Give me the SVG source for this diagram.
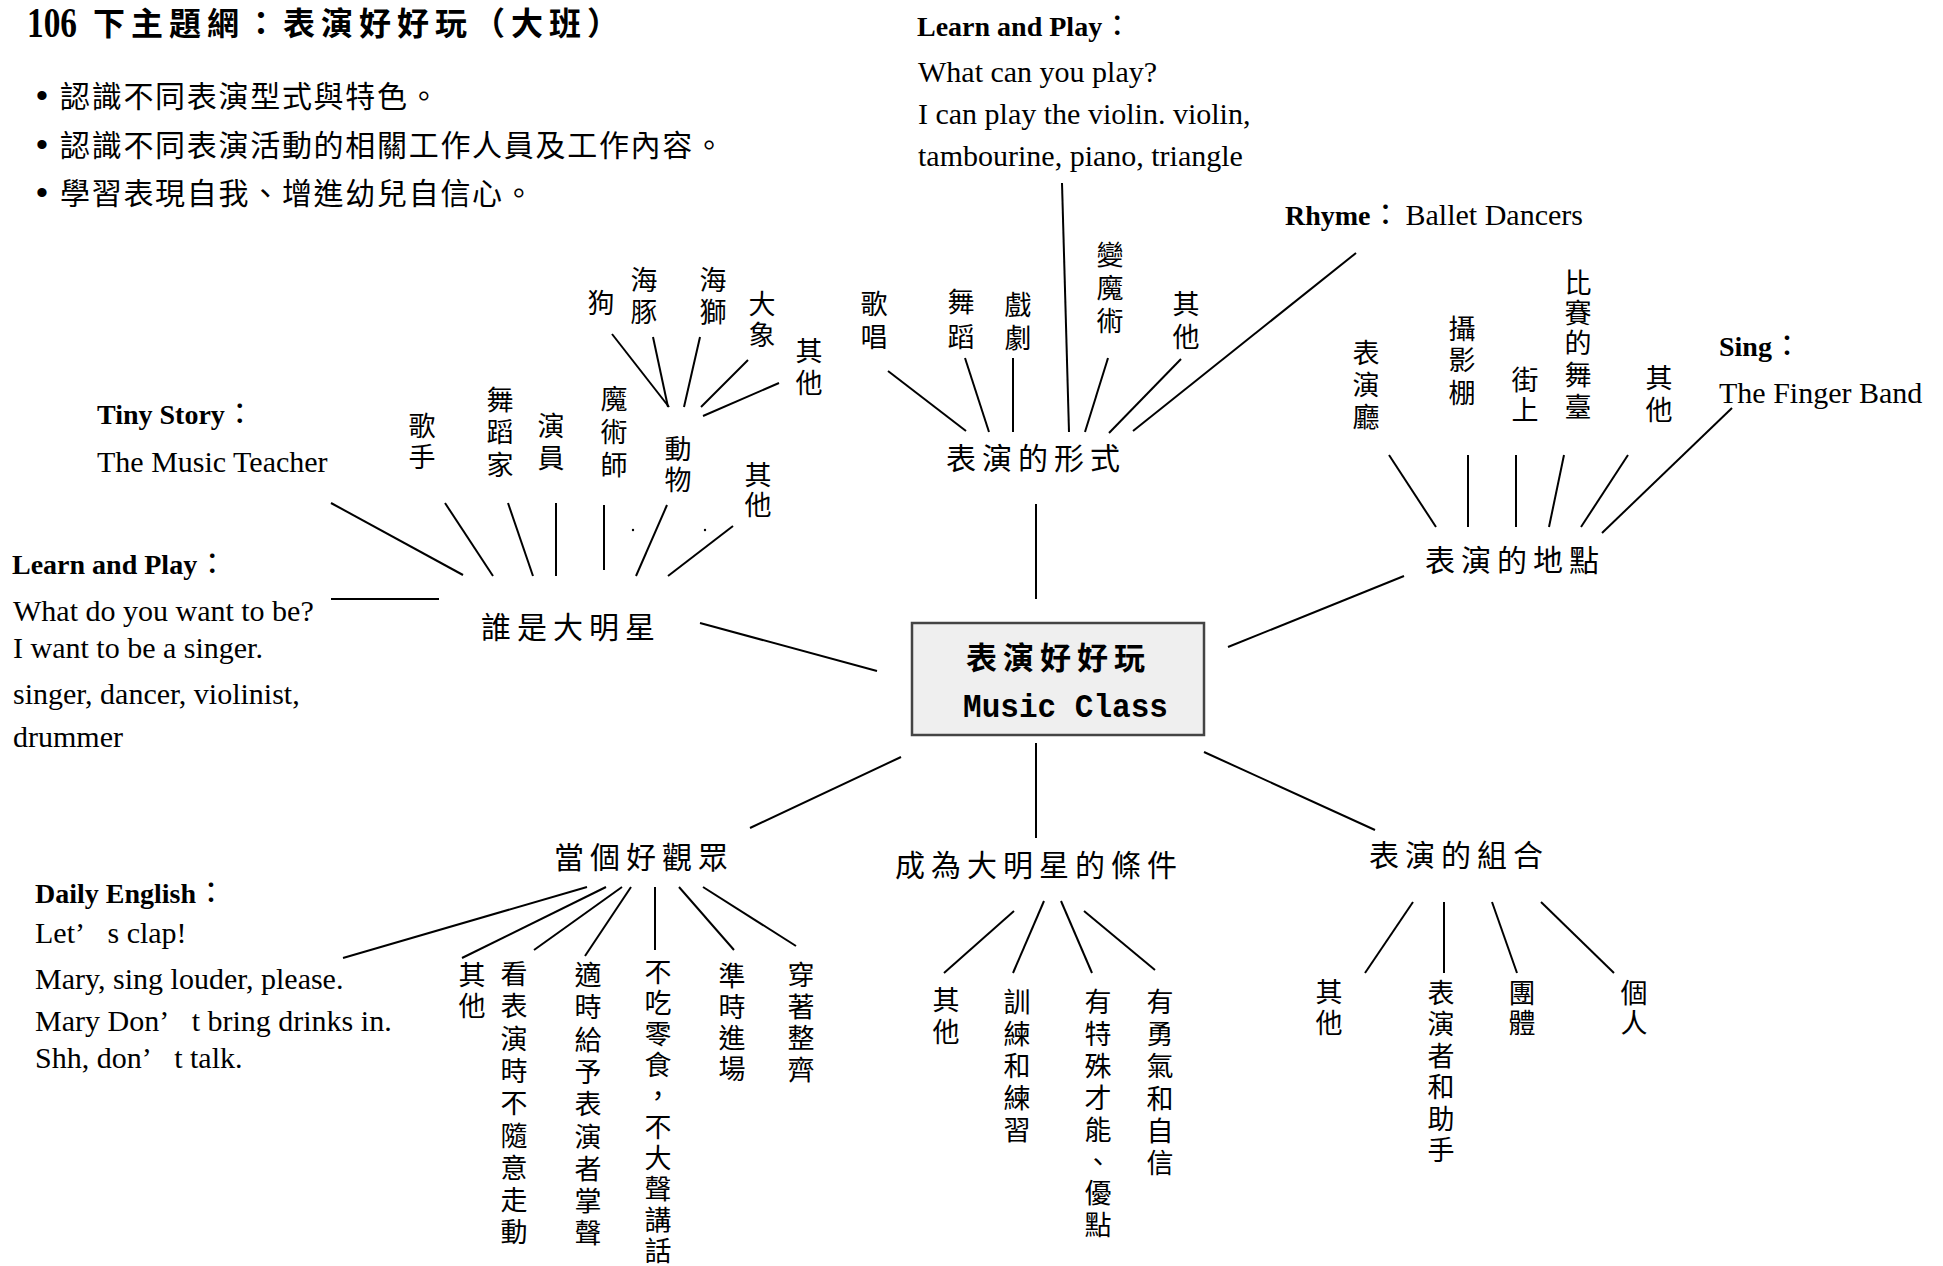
<svg xmlns="http://www.w3.org/2000/svg" width="1943" height="1266" viewBox="0 0 1943 1266">
<style>
.cj{font-family:"Noto Sans CJK TC","Noto Sans CJK SC",sans-serif;fill:#000}
.ttl{font-size:32px;font-weight:bold;letter-spacing:6px}
.bul{font-size:30px;letter-spacing:1.7px}
.nd{font-size:30px;letter-spacing:6px}
.v{font-size:27px;text-anchor:middle}
.en{font-family:"Liberation Serif","Times New Roman",serif;font-size:30px;font-weight:normal;fill:#000}
.hd{font-family:"Liberation Serif","Times New Roman",serif;font-size:28px;font-weight:bold;fill:#000}
.col{font-family:"Noto Sans CJK TC","Noto Sans CJK SC",sans-serif;font-size:30px;font-weight:normal}
.dot{font-family:"Liberation Sans",Arial,sans-serif;font-size:34px;letter-spacing:0}
#connectors line{stroke:#000;stroke-width:2}
</style>
<rect width="1943" height="1266" fill="#fff"/>

<g id="header">
<text x="27" y="37" font-family="Liberation Serif,Times New Roman,serif" font-size="42" font-weight="bold" textLength="50" lengthAdjust="spacingAndGlyphs">106</text>
<text class="cj ttl" x="93" y="35">下主題網：表演好好玩（大班）</text>
<text class="cj bul" x="36" y="107"><tspan class="dot">•</tspan><tspan x="60">認識不同表演型式與特色。</tspan></text>
<text class="cj bul" x="36" y="156"><tspan class="dot">•</tspan><tspan x="60">認識不同表演活動的相關工作人員及工作內容。</tspan></text>
<text class="cj bul" x="36" y="204"><tspan class="dot">•</tspan><tspan x="60">學習表現自我、增進幼兒自信心。</tspan></text>
</g>

<g id="connectors">
<line x1="700" y1="623" x2="877" y2="671"/>
<line x1="901" y1="757" x2="750" y2="828"/>
<line x1="1036" y1="743" x2="1036" y2="838"/>
<line x1="1204" y1="752" x2="1375" y2="830"/>
<line x1="1228" y1="647" x2="1404" y2="576"/>
<line x1="1036" y1="504" x2="1036" y2="599"/>
<line x1="331" y1="503" x2="463" y2="575"/>
<line x1="445" y1="503" x2="493" y2="576"/>
<line x1="508" y1="503" x2="533" y2="576"/>
<line x1="556" y1="503" x2="556" y2="576"/>
<line x1="604" y1="505" x2="604" y2="570"/>
<line x1="667" y1="505" x2="636" y2="576"/>
<line x1="733" y1="526" x2="668" y2="576"/>
<line x1="331" y1="599" x2="439" y2="599"/>
<line x1="612" y1="334" x2="669" y2="407"/>
<line x1="653" y1="337" x2="668" y2="407"/>
<line x1="700" y1="337" x2="684" y2="407"/>
<line x1="748" y1="360" x2="701" y2="407"/>
<line x1="779" y1="383" x2="703" y2="416"/>
<line x1="888" y1="371" x2="966" y2="431"/>
<line x1="965" y1="358" x2="989" y2="432"/>
<line x1="1013" y1="358" x2="1013" y2="432"/>
<line x1="1062" y1="183" x2="1069" y2="432"/>
<line x1="1108" y1="358" x2="1085" y2="432"/>
<line x1="1181" y1="359" x2="1109" y2="433"/>
<line x1="1356" y1="253" x2="1133" y2="431"/>
<line x1="1389" y1="455" x2="1436" y2="527"/>
<line x1="1468" y1="455" x2="1468" y2="527"/>
<line x1="1516" y1="455" x2="1516" y2="527"/>
<line x1="1564" y1="455" x2="1549" y2="527"/>
<line x1="1628" y1="455" x2="1581" y2="527"/>
<line x1="1732" y1="408" x2="1602" y2="533"/>
<line x1="587" y1="887" x2="343" y2="958"/>
<line x1="606" y1="887" x2="462" y2="958"/>
<line x1="622" y1="887" x2="534" y2="950"/>
<line x1="631" y1="887" x2="585" y2="956"/>
<line x1="655" y1="887" x2="655" y2="950"/>
<line x1="679" y1="887" x2="734" y2="950"/>
<line x1="703" y1="887" x2="796" y2="946"/>
<line x1="1014" y1="911" x2="944" y2="973"/>
<line x1="1044" y1="901" x2="1013" y2="973"/>
<line x1="1061" y1="901" x2="1092" y2="973"/>
<line x1="1084" y1="911" x2="1155" y2="970"/>
<line x1="1413" y1="902" x2="1365" y2="973"/>
<line x1="1444" y1="902" x2="1444" y2="973"/>
<line x1="1492" y1="902" x2="1517" y2="973"/>
<line x1="1541" y1="902" x2="1614" y2="973"/>
<circle cx="633" cy="530" r="1.2" fill="#000"/>
<circle cx="705" cy="530" r="1.2" fill="#000"/>
</g>

<g id="center">
<rect x="912" y="623" width="292" height="112" fill="#efefef" stroke="#444" stroke-width="2.5"/>
<text class="cj" x="966" y="669" font-size="31" font-weight="bold" letter-spacing="6">表演好好玩</text>
<text x="963" y="717" font-family="Liberation Mono,Courier New,monospace" font-size="34" font-weight="bold" textLength="205" lengthAdjust="spacingAndGlyphs">Music Class</text>
</g>

<g id="n-who">
<text class="cj nd" x="481" y="638">誰是大明星</text>
<text class="cj v" x="422" y="436">歌<tspan x="422" dy="31">手</tspan></text>
<text class="cj v" x="500" y="410">舞<tspan x="500" dy="32">蹈</tspan><tspan x="500" dy="33">家</tspan></text>
<text class="cj v" x="551" y="436">演<tspan x="551" dy="32">員</tspan></text>
<text class="cj v" x="614" y="409">魔<tspan x="614" dy="33">術</tspan><tspan x="614" dy="33">師</tspan></text>
<text class="cj v" x="678" y="459">動<tspan x="678" dy="31">物</tspan></text>
<text class="cj v" x="758" y="485">其<tspan x="758" dy="30">他</tspan></text>
</g>

<g id="n-animals">
<text class="cj v" x="601" y="313">狗</text>
<text class="cj v" x="644" y="290">海<tspan x="644" dy="32">豚</tspan></text>
<text class="cj v" x="713" y="290">海<tspan x="713" dy="32">獅</tspan></text>
<text class="cj v" x="762" y="314">大<tspan x="762" dy="31">象</tspan></text>
<text class="cj v" x="809" y="361">其<tspan x="809" dy="32">他</tspan></text>
</g>

<g id="n-form">
<text class="cj nd" x="946" y="469">表演的形式</text>
<text class="cj v" x="874" y="314">歌<tspan x="874" dy="33">唱</tspan></text>
<text class="cj v" x="961" y="312">舞<tspan x="961" dy="35">蹈</tspan></text>
<text class="cj v" x="1018" y="315">戲<tspan x="1018" dy="33">劇</tspan></text>
<text class="cj v" x="1110" y="265">變<tspan x="1110" dy="33">魔</tspan><tspan x="1110" dy="33">術</tspan></text>
<text class="cj v" x="1186" y="314">其<tspan x="1186" dy="33">他</tspan></text>
</g>

<g id="n-place">
<text class="cj nd" x="1425" y="571">表演的地點</text>
<text class="cj v" x="1366" y="363">表<tspan x="1366" dy="32">演</tspan><tspan x="1366" dy="32">廳</tspan></text>
<text class="cj v" x="1462" y="339">攝<tspan x="1462" dy="31">影</tspan><tspan x="1462" dy="33">棚</tspan></text>
<text class="cj v" x="1525" y="390">街<tspan x="1525" dy="30">上</tspan></text>
<text class="cj v" x="1578" y="293">比<tspan x="1578" dy="30">賽</tspan><tspan x="1578" dy="30">的</tspan><tspan x="1578" dy="32">舞</tspan><tspan x="1578" dy="32">臺</tspan></text>
<text class="cj v" x="1659" y="388">其<tspan x="1659" dy="32">他</tspan></text>
</g>

<g id="n-audience">
<text class="cj nd" x="554" y="868">當個好觀眾</text>
<text class="cj v" x="472" y="985">其<tspan x="472" dy="31">他</tspan></text>
<text class="cj v" x="514" y="984">看<tspan x="514" dy="32.3">表</tspan><tspan x="514" dy="32.3">演</tspan><tspan x="514" dy="32.3">時</tspan><tspan x="514" dy="32.3">不</tspan><tspan x="514" dy="32.3">隨</tspan><tspan x="514" dy="32.3">意</tspan><tspan x="514" dy="32.3">走</tspan><tspan x="514" dy="32.3">動</tspan></text>
<text class="cj v" x="588" y="985">適<tspan x="588" dy="32.3">時</tspan><tspan x="588" dy="32.3">給</tspan><tspan x="588" dy="32.3">予</tspan><tspan x="588" dy="32.3">表</tspan><tspan x="588" dy="32.3">演</tspan><tspan x="588" dy="32.3">者</tspan><tspan x="588" dy="32.3">掌</tspan><tspan x="588" dy="32.3">聲</tspan></text>
<text class="cj v" x="658" y="982">不<tspan x="658" dy="31">吃</tspan><tspan x="658" dy="31">零</tspan><tspan x="658" dy="31">食</tspan><tspan x="658" dy="31">，</tspan><tspan x="658" dy="31">不</tspan><tspan x="658" dy="31">大</tspan><tspan x="658" dy="31">聲</tspan><tspan x="658" dy="31">講</tspan><tspan x="658" dy="31">話</tspan></text>
<text class="cj v" x="732" y="986">準<tspan x="732" dy="31">時</tspan><tspan x="732" dy="31">進</tspan><tspan x="732" dy="31">場</tspan></text>
<text class="cj v" x="801" y="985">穿<tspan x="801" dy="31.7">著</tspan><tspan x="801" dy="31.7">整</tspan><tspan x="801" dy="31.7">齊</tspan></text>
</g>

<g id="n-conditions">
<text class="cj nd" x="895" y="876" letter-spacing="6.7">成為大明星的條件</text>
<text class="cj v" x="946" y="1010">其<tspan x="946" dy="32">他</tspan></text>
<text class="cj v" x="1017" y="1012">訓<tspan x="1017" dy="32">練</tspan><tspan x="1017" dy="32">和</tspan><tspan x="1017" dy="32">練</tspan><tspan x="1017" dy="32">習</tspan></text>
<text class="cj v" x="1098" y="1012">有<tspan x="1098" dy="31.9">特</tspan><tspan x="1098" dy="31.9">殊</tspan><tspan x="1098" dy="31.9">才</tspan><tspan x="1098" dy="31.9">能</tspan><tspan x="1098" dy="31.9">、</tspan><tspan x="1098" dy="31.9">優</tspan><tspan x="1098" dy="31.9">點</tspan></text>
<text class="cj v" x="1160" y="1012">有<tspan x="1160" dy="32.2">勇</tspan><tspan x="1160" dy="32.2">氣</tspan><tspan x="1160" dy="32.2">和</tspan><tspan x="1160" dy="32.2">自</tspan><tspan x="1160" dy="32.2">信</tspan></text>
</g>

<g id="n-combination">
<text class="cj nd" x="1369" y="866">表演的組合</text>
<text class="cj v" x="1329" y="1002">其<tspan x="1329" dy="31">他</tspan></text>
<text class="cj v" x="1441" y="1003">表<tspan x="1441" dy="31.4">演</tspan><tspan x="1441" dy="31.4">者</tspan><tspan x="1441" dy="31.4">和</tspan><tspan x="1441" dy="31.4">助</tspan><tspan x="1441" dy="31.4">手</tspan></text>
<text class="cj v" x="1522" y="1003">團<tspan x="1522" dy="30">體</tspan></text>
<text class="cj v" x="1634" y="1003">個<tspan x="1634" dy="30">人</tspan></text>
</g>

<g id="note-learn-top">
<text class="hd" x="917" y="36">Learn and Play<tspan class="col">：</tspan></text>
<text class="en" x="918" y="82">What can you play?</text>
<text class="en" x="918" y="124">I can play the violin. violin,</text>
<text class="en" x="918" y="166">tambourine, piano, triangle</text>
</g>

<g id="note-rhyme">
<text class="hd" x="1285" y="225">Rhyme<tspan class="col">：</tspan><tspan class="en" dx="5">Ballet Dancers</tspan></text>
</g>

<g id="note-sing">
<text class="hd" x="1719" y="356">Sing<tspan class="col">：</tspan></text>
<text class="en" x="1719" y="403">The Finger Band</text>
</g>

<g id="note-story">
<text class="hd" x="97" y="424">Tiny Story<tspan class="col">：</tspan></text>
<text class="en" x="97" y="472">The Music Teacher</text>
</g>

<g id="note-learn-left">
<text class="hd" x="12" y="574">Learn and Play<tspan class="col">：</tspan></text>
<text class="en" x="13" y="621">What do you want to be?</text>
<text class="en" x="13" y="658">I want to be a singer.</text>
<text class="en" x="13" y="704">singer, dancer, violinist,</text>
<text class="en" x="13" y="747">drummer</text>
</g>

<g id="note-daily">
<text class="hd" x="35" y="903" font-size="27">Daily English<tspan class="col">：</tspan></text>
<text class="en" x="35" y="943">Let’&#160;&#160;&#160;s clap!</text>
<text class="en" x="35" y="989">Mary, sing louder, please.</text>
<text class="en" x="35" y="1031">Mary Don’&#160;&#160;&#160;t bring drinks in.</text>
<text class="en" x="35" y="1068">Shh, don’&#160;&#160;&#160;t talk.</text>
</g>
</svg>
